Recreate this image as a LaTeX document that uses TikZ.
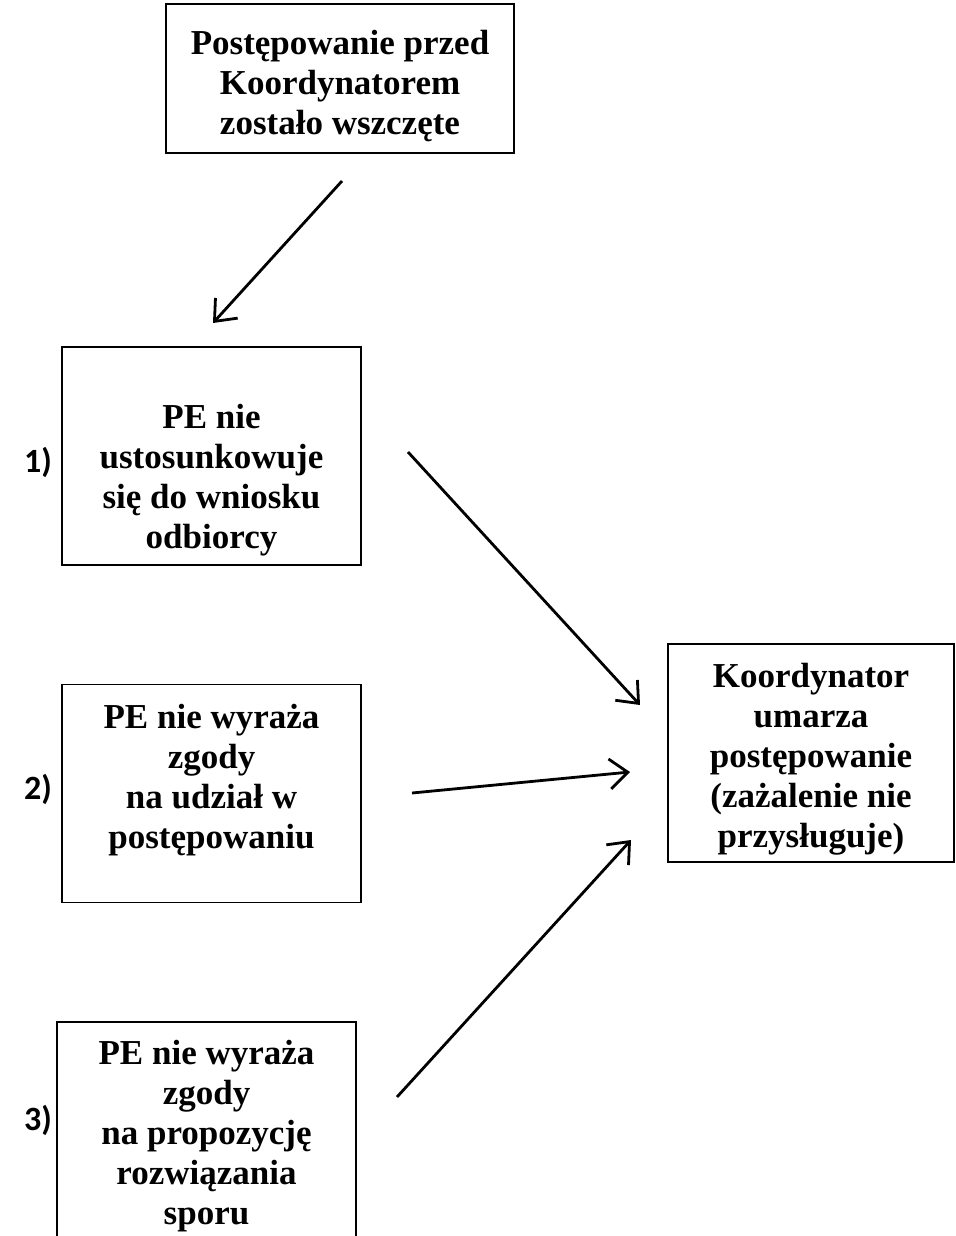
\documentclass[tikz,border=0pt]{standalone}
\usepackage{fontspec}
\setmainfont{Liberation Serif}
\newfontfamily\numfont{Carlito}
\usetikzlibrary{arrows.meta}

\begin{document}
\begin{tikzpicture}
      [x = 0.5pt, y = -0.5pt,
      box/.style= {
         draw,
         line width = 0.7pt,
         rectangle,
         inner sep = 0pt,
         minimum width = 149.5pt,
         minimum height = 109pt
      },
      txt/.style= {
         font = \bfseries\fontsize{17.5}{20}\selectfont,
         align = center,
         inner sep = 0pt
      },
      num/.style= {
         font = \numfont\bfseries\fontsize{17}{19}\selectfont,
         inner sep = 0pt
      },
      conn/.style={-{Straight Barb[length = 9pt, width = 15pt]}, line width = 1.4pt}]
      \useasboundingbox (0, 0) rectangle (955, 1236);

      % boxes
      \node[box, minimum width = 174pt, minimum height = 74.5pt] (start) at (340, 78.5) {};
      \node[box] (case1) at (211.5, 456) {};
      \node[box] (case2) at (211.5, 793.5) {};
      \node[box] (case3) at (206.5, 1131) {};
      \node[box, minimum width = 143pt] (stop) at (811, 753) {};

      % texts
      \node[txt] (starttxt) at (340, 86) {Postępowanie przed\\Koordynatorem\\zostało wszczęte};
      \node[txt] (case1txt) at (211.5, 480) {PE nie\\ustosunkowuje\\się do wniosku\\odbiorcy};
      \node[txt] (case2txt) at (211.5, 780.5) {PE nie wyraża\\zgody\\na udział w\\postępowaniu};
      \node[txt] (case3txt) at (206.5, 1136) {PE nie wyraża\\zgody\\na propozycję\\rozwiązania\\sporu};
      \node[txt] (stoptxt) at (811, 759) {Koordynator\\umarza\\postępowanie\\(zażalenie nie\\przysługuje)};

      \node[num] (n1) at (38, 462) {1)};
      \node[num] (n2) at (38, 789) {2)};
      \node[num] (n3) at (38, 1120) {3)};

      % arrow ends
      \coordinate (startout) at (342, 181);
      \coordinate (case1in) at (213, 323);
      \coordinate (case1out) at (408, 452);
      \coordinate (case2out) at (412, 793);
      \coordinate (case3out) at (397, 1097);
      \coordinate (stopin1) at (640, 705);
      \coordinate (stopin2) at (630, 772);
      \coordinate (stopin3) at (631, 840);

      \draw[conn] (startout) -- (case1in);
      \draw[conn] (case1out) -- (stopin1);
      \draw[conn] (case2out) -- (stopin2);
      \draw[conn] (case3out) -- (stopin3);

   \end{tikzpicture}
\end{document}
